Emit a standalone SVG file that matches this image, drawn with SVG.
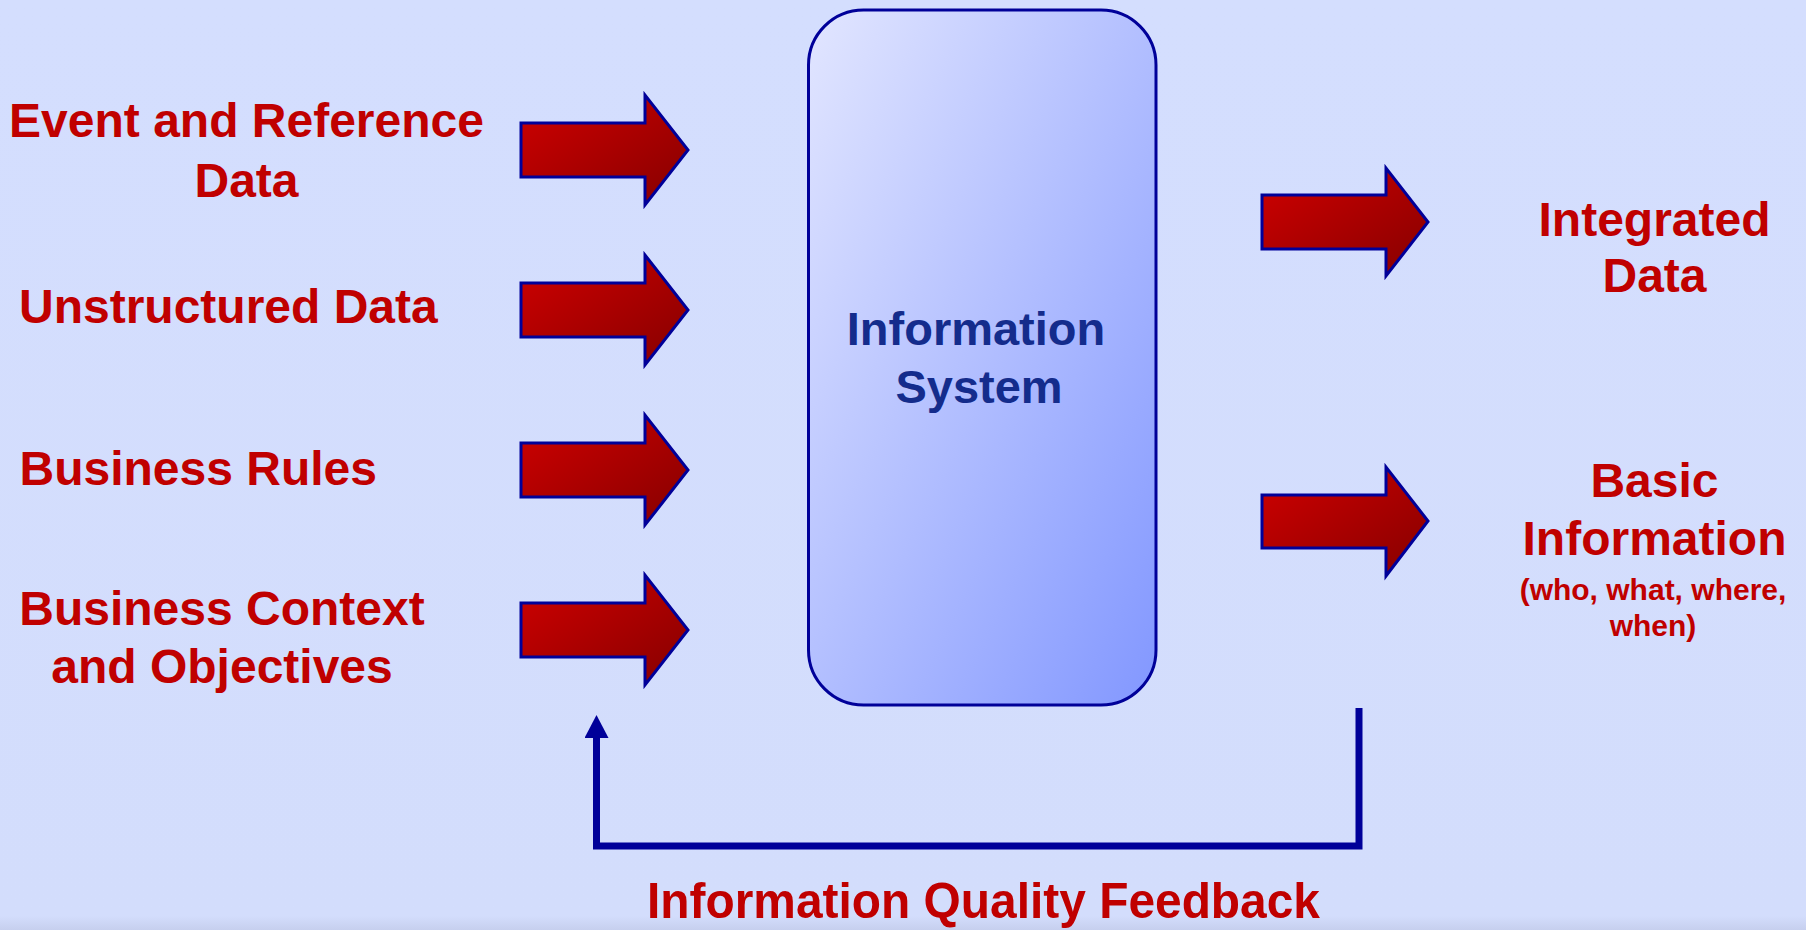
<svg xmlns="http://www.w3.org/2000/svg" width="1806" height="930" viewBox="0 0 1806 930">
  <defs>
    <linearGradient id="arrowGrad" x1="0" y1="0" x2="1" y2="1">
      <stop offset="0" stop-color="#d00000"/>
      <stop offset="1" stop-color="#850000"/>
    </linearGradient>
    <linearGradient id="boxGrad" x1="0" y1="0" x2="1" y2="1">
      <stop offset="0" stop-color="#e2e6ff"/>
      <stop offset="1" stop-color="#8297ff"/>
    </linearGradient>
    <linearGradient id="bgGrad" x1="0" y1="0" x2="0" y2="1">
      <stop offset="0" stop-color="#d4defe"/>
      <stop offset="0.985" stop-color="#d3ddfc"/>
      <stop offset="1" stop-color="#c6cfee"/>
    </linearGradient>
    <marker id="head" markerUnits="userSpaceOnUse" markerWidth="24" markerHeight="24" refX="0" refY="12" orient="auto" viewBox="0 0 24 24">
      <path d="M0,0 L23,12 L0,24 Z" fill="#000099"/>
    </marker>
    <style>
      .lbl { font-family: "Liberation Sans", Arial, sans-serif; font-weight: bold; fill: #c00000; }
      .big { font-size: 48px; }
      .small { font-size: 30px; }
      .sys { font-family: "Liberation Sans", Arial, sans-serif; font-weight: bold; font-size: 47px; fill: #142c8c; }
      .arrow { fill: url(#arrowGrad); stroke: #000099; stroke-width: 3; stroke-linejoin: miter; }
      .fb { fill: none; stroke: #000099; stroke-width: 7; }
    </style>
  </defs>

  <rect x="0" y="0" width="1806" height="930" fill="url(#bgGrad)"/>

  <g id="input-event">
    <path class="arrow" d="M521,123 H645 V95 L688,150 L645,205 V177 H521 Z"/>
    <text class="lbl big" x="246.5" y="137" text-anchor="middle">Event and Reference</text>
    <text class="lbl big" x="246.5" y="197" text-anchor="middle">Data</text>
  </g>

  <g id="input-unstructured">
    <path class="arrow" d="M521,283 H645 V255 L688,310 L645,365 V337 H521 Z"/>
    <text class="lbl big" x="19" y="323">Unstructured Data</text>
  </g>

  <g id="input-rules">
    <path class="arrow" d="M521,443 H645 V415 L688,470 L645,525 V497 H521 Z"/>
    <text class="lbl big" x="19.5" y="485">Business Rules</text>
  </g>

  <g id="input-context">
    <path class="arrow" d="M521,603 H645 V575 L688,630 L645,685 V657 H521 Z"/>
    <text class="lbl big" x="222" y="625" text-anchor="middle">Business Context</text>
    <text class="lbl big" x="222" y="683" text-anchor="middle">and Objectives</text>
  </g>

  <g id="information-system">
    <rect x="808.5" y="10" width="347.5" height="695" rx="55" ry="55" fill="url(#boxGrad)" stroke="#000099" stroke-width="3"/>
    <text class="sys" x="976" y="345" text-anchor="middle">Information</text>
    <text class="sys" x="979" y="403" text-anchor="middle">System</text>
  </g>

  <g id="output-integrated">
    <path class="arrow" d="M1262,195 H1386 V168 L1428,222 L1386,276 V249 H1262 Z"/>
    <text class="lbl big" x="1654.5" y="236" text-anchor="middle">Integrated</text>
    <text class="lbl big" x="1654.5" y="292" text-anchor="middle">Data</text>
  </g>

  <g id="output-basic">
    <path class="arrow" d="M1262,495 H1386 V467 L1428,521 L1386,576 V548 H1262 Z"/>
    <text class="lbl big" x="1654.5" y="497" text-anchor="middle">Basic</text>
    <text class="lbl big" x="1654.5" y="555" text-anchor="middle">Information</text>
    <text class="lbl small" x="1653" y="600" text-anchor="middle">(who, what, where,</text>
    <text class="lbl small" x="1653" y="636" text-anchor="middle">when)</text>
  </g>

  <g id="connectors">
    <path class="fb" d="M1359,708 V846 H596.5 V738" marker-end="url(#head)"/>
  </g>

  <g id="feedback-label">
    <text class="lbl" x="647" y="918" font-size="49.5" textLength="673" lengthAdjust="spacingAndGlyphs">Information Quality Feedback</text>
  </g>
</svg>
